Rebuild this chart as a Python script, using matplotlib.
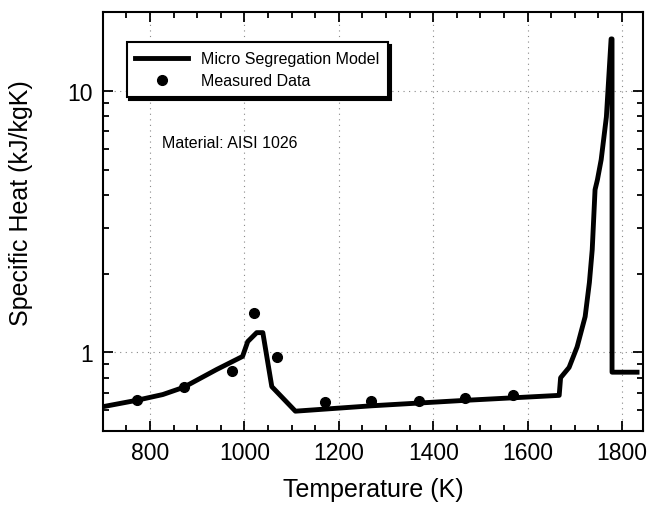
import numpy as np
import matplotlib.pyplot as plt
from matplotlib.ticker import LogLocator, FixedLocator, NullFormatter, MultipleLocator

plt.rcParams['font.family'] = ['Liberation Sans', 'DejaVu Sans']

# model curve (micro segregation model)
model_T = [700, 772, 827, 871, 941, 996, 1007, 1026, 1039, 1058, 1108,
           1270, 1470, 1667, 1670, 1688, 1705, 1722, 1731, 1737, 1743,
           1748, 1756, 1767, 1777, 1779, 1779, 1832]
model_cp = [0.62, 0.656, 0.69, 0.735, 0.86, 0.965, 1.10, 1.19, 1.19, 0.74, 0.596,
            0.625, 0.656, 0.685, 0.80, 0.876, 1.05, 1.37, 1.85, 2.47, 4.19,
            4.57, 5.46, 7.95, 15.8, 15.8, 0.84, 0.84]

# measured data
meas_T = [773, 871, 973, 1020, 1068, 1170, 1269, 1369, 1468, 1570]
meas_cp = [0.656, 0.74, 0.846, 1.42, 0.957, 0.644, 0.65, 0.65, 0.667, 0.69]

fig = plt.figure(figsize=(6.51, 5.06), dpi=100)
ax = fig.add_axes([0.158, 0.146, 0.830, 0.828])

ax.plot(model_T, model_cp, color='black', lw=3.5, solid_joinstyle='round',
        label='Micro Segregation Model')
ax.plot(meas_T, meas_cp, 'o', color='black', ms=7, label='Measured Data')

ax.set_yscale('log')
ax.set_xlim(700, 1845)
ax.set_ylim(0.5, 20)

ax.xaxis.set_major_locator(MultipleLocator(200))
ax.xaxis.set_minor_locator(MultipleLocator(50))
ax.yaxis.set_major_locator(FixedLocator([1, 10]))
ax.yaxis.set_major_formatter(plt.FuncFormatter(lambda v, p: f'{v:g}'))
ax.yaxis.set_minor_locator(LogLocator(base=10, subs=np.arange(2, 10)))
ax.yaxis.set_minor_formatter(NullFormatter())

ax.tick_params(which='both', direction='in', top=True, right=True, width=1.3)
ax.tick_params(which='major', length=7, labelsize=16.5, pad=7)
ax.tick_params(which='minor', length=4)
for s in ax.spines.values():
    s.set_linewidth(1.5)

ax.grid(True, which='major', ls=(0, (1, 4)), color='#888888', lw=0.8)

ax.set_xlabel('Temperature (K)', fontsize=18)
ax.set_ylabel('Specific Heat (kJ/kgK)', fontsize=18)
ax.xaxis.set_label_coords(0.5, -0.11)
ax.yaxis.set_label_coords(-0.13, 0.547)

ax.text(0.11, 0.69, 'Material: AISI 1026', transform=ax.transAxes,
        fontsize=11.5, va='center')

leg = ax.legend(loc='upper left', bbox_to_anchor=(0.044, 0.928), borderaxespad=0,
                fontsize=11.5, handlelength=3.3, frameon=True, fancybox=False,
                shadow={'color': 'black', 'alpha': 1}, borderpad=0.55,
                labelspacing=0.45, handletextpad=0.8)
leg.get_frame().set_edgecolor('black')
leg.get_frame().set_linewidth(1.5)

fig.savefig('out.png', dpi=100)
